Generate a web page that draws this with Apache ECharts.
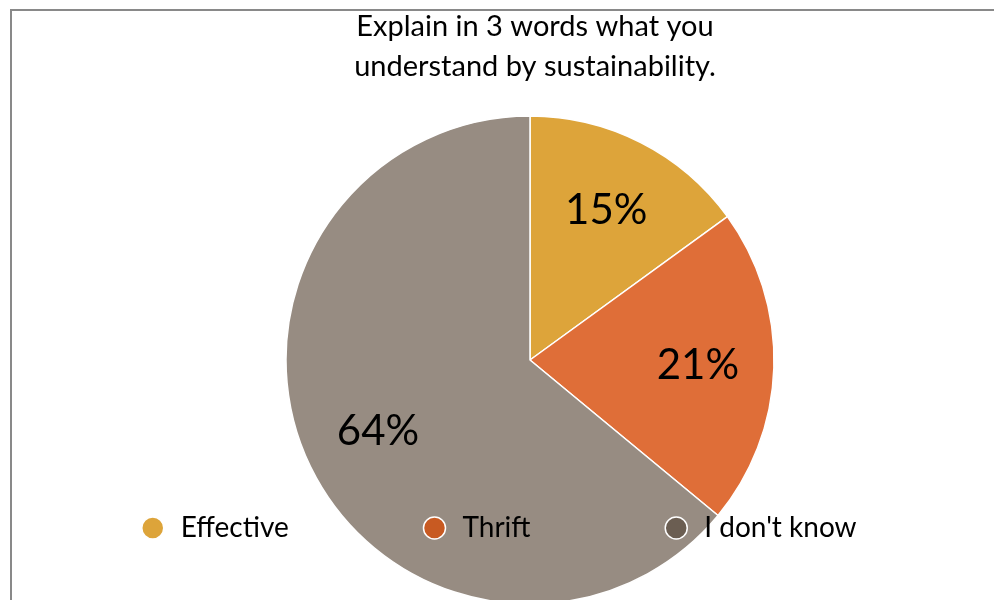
<!DOCTYPE html>
<html>
<head>
<meta charset="utf-8">
<script src="https://cdn.jsdelivr.net/npm/echarts@6/dist/echarts.min.js"></script>
<style>
  html, body { margin: 0; padding: 0; background: #fff; }
  #main { width: 994px; height: 600px; }
</style>
</head>
<body>
<div id="main"></div>
<script>
// answers, share in percent
var categories = ['Effective', 'Thrift', "I don't know"];
var shares = [15, 21, 64];
var sliceColors = ['#DDA43A', '#DF6E38', '#978C82'];
var legendColors = ['#DDA43A', '#C85A22', '#6B5E52'];

var fontName = 'Lato, "Open Sans", sans-serif';

var pieData = categories.map(function (c, i) {
    return { name: c, value: shares[i], itemStyle: { color: sliceColors[i] } };
});

var option = {
    animation: false,
    textStyle: { fontFamily: fontName },
    title: {
        text: 'Explain in 3 words what you\nunderstand by sustainability.',
        left: 530,
        top: 2,
        textAlign: 'center',
        textStyle: {
            fontFamily: fontName,
            fontSize: 29,
            fontWeight: 'normal',
            color: '#000',
            lineHeight: 40
        }
    },
    graphic: [{
        type: 'rect',
        shape: { x: 11, y: 10, width: 1000, height: 620 },
        style: { fill: 'none', stroke: '#898989', lineWidth: 2 },
        silent: true,
        z: 100
    }],
    legend: {
        bottom: 53,
        left: 136,
        icon: 'circle',
        itemWidth: 22,
        itemHeight: 22,
        itemGap: 134,
        selectedMode: false,
        data: categories.map(function (c, i) {
            return {
                name: c,
                itemStyle: { color: legendColors[i], borderColor: '#fff', borderWidth: 1.5 }
            };
        }),
        textStyle: {
            fontFamily: fontName,
            fontSize: 28,
            color: '#000',
            padding: [0, 0, 0, 12]
        }
    },
    series: [{
        name: 'share',
        type: 'pie',
        center: [530, 360],
        radius: [0, 244],
        startAngle: 90,
        clockwise: true,
        data: pieData,
        itemStyle: { borderColor: '#fff', borderWidth: 1.5 },
        label: { show: false },
        labelLine: { show: false },
        emphasis: { disabled: true }
    }, {
        // label carrier: sits a bit further out than the default inside spot
        name: 'labels',
        type: 'pie',
        center: [530, 360],
        radius: [86, 244],
        startAngle: 90,
        clockwise: true,
        silent: true,
        data: pieData.map(function (d) { return { name: d.name, value: d.value }; }),
        itemStyle: { color: 'rgba(0,0,0,0)' },
        label: {
            show: true,
            position: 'inside',
            formatter: '{c}%',
            fontFamily: fontName,
            fontSize: 42,
            color: '#000'
        },
        labelLine: { show: false },
        emphasis: { disabled: true }
    }]
};

var chart = echarts.init(document.getElementById('main'));
chart.setOption(option);
</script>
</body>
</html>
